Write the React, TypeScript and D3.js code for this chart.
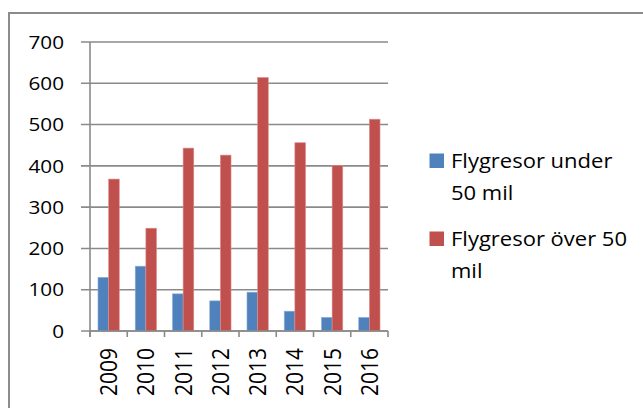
import React, { useEffect, useRef } from 'react';
import * as d3 from 'd3';

// Flygresor per år, under / över 50 mil
const years = ['2009', '2010', '2011', '2012', '2013', '2014', '2015', '2016'];
const underValues = [130, 157, 90, 73, 94, 48, 33, 33];
const overValues = [368, 249, 443, 426, 614, 456, 401, 513];
const yTicks = [0, 100, 200, 300, 400, 500, 600, 700];
const seriesNames = ['Flygresor under', 'Flygresor över 50'];
const seriesNames2 = ['50 mil', 'mil'];
const colors = ['#4F81BD', '#C0504D'];

export default function App() {
  const ref = useRef<HTMLDivElement>(null);

  useEffect(() => {
    const width = 643;
    const height = 408;
    const plot = { left: 90, right: 388, top: 42, bottom: 331 };
    const font = '"Open Sans", sans-serif';
    const sx = 1.12; // reference text is a little wider than the font

    d3.select(ref.current).selectAll('*').remove();

    const svg = d3.select(ref.current)
      .append('svg')
      .attr('width', width)
      .attr('height', height)
      .style('position', 'absolute')
      .style('left', 0)
      .style('top', 0)
      .style('background', '#fff')
      .style('font-family', font);

    // outer frame (open on right and bottom)
    svg.append('path')
      .attr('d', `M9,${height} V13 H${width}`)
      .attr('fill', 'none')
      .attr('stroke', '#8c8c8c')
      .attr('stroke-width', 2);

    const x = d3.scaleBand()
      .domain(years)
      .range([plot.left, plot.right])
      .paddingInner(0)
      .paddingOuter(0);

    const y = d3.scaleLinear()
      .domain([0, 700])
      .range([plot.bottom, plot.top]);

    // grid lines
    svg.append('g')
      .selectAll('line')
      .data(yTicks)
      .enter()
      .append('line')
      .attr('x1', plot.left - 9)
      .attr('x2', plot.right)
      .attr('y1', d => y(d))
      .attr('y2', d => y(d))
      .attr('stroke', '#8a8a8a')
      .attr('stroke-width', 1.6);

    // y tick labels
    svg.append('g')
      .selectAll('text')
      .data(yTicks)
      .enter()
      .append('text')
      .attr('transform', d => `translate(64,${y(d)}) scale(${sx},1)`)
      .attr('text-anchor', 'end')
      .attr('dy', '0.36em')
      .attr('font-size', 18.5)
      .attr('fill', '#000')
      .text(d => d);

    // bars
    const bw = x.bandwidth() / 3.5;
    const groups = svg.append('g')
      .selectAll('g')
      .data(years)
      .enter()
      .append('g')
      .attr('transform', d => `translate(${(x(d) || 0) + bw * 0.75},0)`);

    [underValues, overValues].forEach((vals, s) => {
      groups.append('rect')
        .attr('x', s * bw)
        .attr('y', (_, i) => y(vals[i]))
        .attr('width', bw)
        .attr('height', (_, i) => y(0) - y(vals[i]))
        .attr('fill', colors[s])
        .attr('stroke', s === 0 ? '#8fb0d9' : '#dc8f8d')
        .attr('stroke-width', 0.6);
    });

    // y axis line
    svg.append('line')
      .attr('x1', plot.left).attr('x2', plot.left)
      .attr('y1', plot.top).attr('y2', plot.bottom + 6)
      .attr('stroke', '#8a8a8a')
      .attr('stroke-width', 1.6);

    // x axis line + category ticks
    svg.append('line')
      .attr('x1', plot.left).attr('x2', plot.right)
      .attr('y1', plot.bottom).attr('y2', plot.bottom)
      .attr('stroke', '#8a8a8a')
      .attr('stroke-width', 1.6);

    const tickXs = years.map(d => x(d) || 0).concat([plot.right]);
    svg.append('g')
      .selectAll('line')
      .data(tickXs)
      .enter()
      .append('line')
      .attr('x1', d => d).attr('x2', d => d)
      .attr('y1', plot.bottom).attr('y2', plot.bottom + 6)
      .attr('stroke', '#8a8a8a')
      .attr('stroke-width', 1.6);

    // rotated year labels
    svg.append('g')
      .selectAll('text')
      .data(years)
      .enter()
      .append('text')
      .attr('transform', d => `translate(${(x(d) || 0) + x.bandwidth() / 2},348) scale(${sx},1) rotate(-90)`)
      .attr('text-anchor', 'end')
      .attr('dy', '0.36em')
      .attr('font-size', 21)
      .attr('fill', '#000')
      .text(d => d);

    // legend
    const legend = svg.append('g');
    const legendY = [168, 246];
    seriesNames.forEach((name, i) => {
      legend.append('rect')
        .attr('x', 429.5)
        .attr('y', legendY[i] - 14.5)
        .attr('width', 14.5)
        .attr('height', 14.5)
        .attr('fill', colors[i]);
      legend.append('text')
        .attr('transform', `translate(451,${legendY[i]}) scale(1.1,1)`)
        .attr('font-size', 20)
        .attr('fill', '#000')
        .text(name);
      legend.append('text')
        .attr('transform', `translate(451,${legendY[i] + 31.5}) scale(1.1,1)`)
        .attr('font-size', 20)
        .attr('fill', '#000')
        .text(seriesNames2[i]);
    });
  }, []);

  return <div ref={ref} />;
}
